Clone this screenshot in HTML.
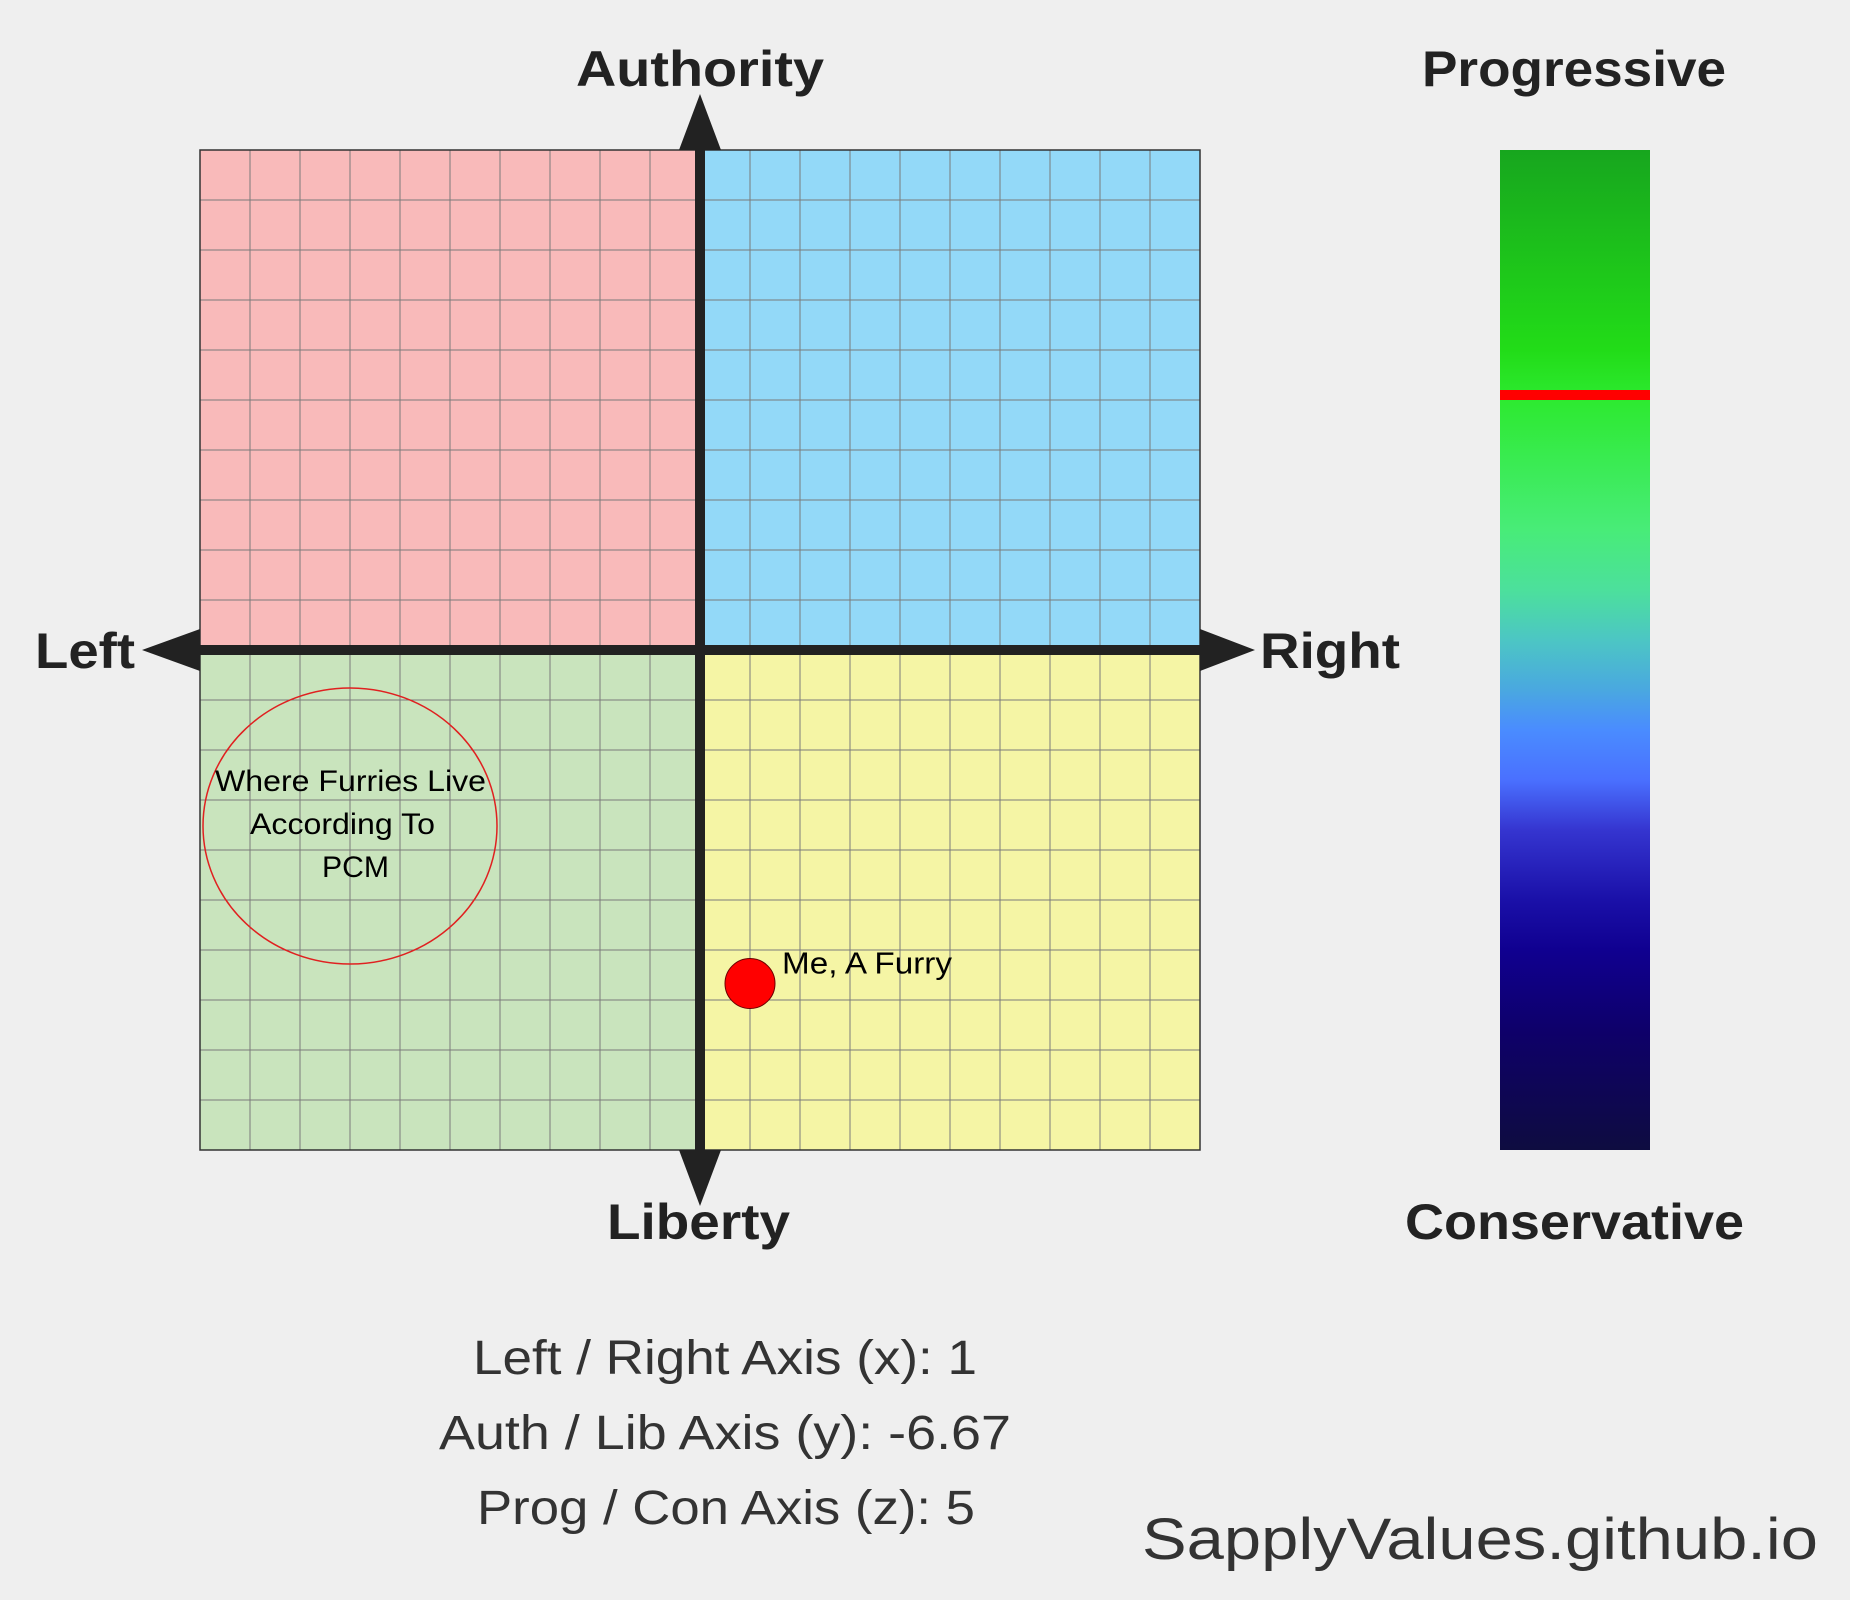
<!DOCTYPE html>
<html>
<head>
<meta charset="utf-8">
<style>
html,body{margin:0;padding:0;background:#efefef;}
svg{display:block;}
.bold{font-family:"Liberation Sans",sans-serif;font-weight:bold;fill:#222;}
.cal{font-family:"Liberation Sans",sans-serif;fill:#000;}
.info{font-family:"Liberation Sans",sans-serif;fill:#333;}
</style>
</head>
<body>
<svg id="chart" width="1850" height="1600" viewBox="0 0 1850 1600" xmlns="http://www.w3.org/2000/svg">
  <defs>
    <linearGradient id="zgrad" x1="0" y1="0" x2="0" y2="1">
      <stop offset="0" stop-color="#17a61e"/>
      <stop offset="0.2" stop-color="#22dc18"/>
      <stop offset="0.25" stop-color="#2dea30"/>
      <stop offset="0.38" stop-color="#48ec78"/>
      <stop offset="0.44" stop-color="#4ce09c"/>
      <stop offset="0.49" stop-color="#4cc6c4"/>
      <stop offset="0.54" stop-color="#4aa8e0"/>
      <stop offset="0.58" stop-color="#4a8cff"/>
      <stop offset="0.63" stop-color="#4a70ff"/>
      <stop offset="0.68" stop-color="#3535d0"/>
      <stop offset="0.75" stop-color="#1a10a8"/>
      <stop offset="0.8" stop-color="#100090"/>
      <stop offset="0.88" stop-color="#0e006a"/>
      <stop offset="1" stop-color="#0e0c40"/>
    </linearGradient>
  </defs>
  <g id="quadrants"></g>
  <g id="grid"></g>
  <g id="axes"></g>
  <g id="marks"></g>

  <text class="bold" x="576" y="86" font-size="50" textLength="248" lengthAdjust="spacingAndGlyphs">Authority</text>
  <text class="bold" x="607" y="1239" font-size="50" textLength="183" lengthAdjust="spacingAndGlyphs">Liberty</text>
  <text class="bold" x="35" y="668" font-size="50" textLength="100" lengthAdjust="spacingAndGlyphs">Left</text>
  <text class="bold" x="1260" y="668" font-size="50" textLength="140" lengthAdjust="spacingAndGlyphs">Right</text>
  <text class="bold" x="1422" y="86" font-size="50" textLength="304" lengthAdjust="spacingAndGlyphs">Progressive</text>
  <text class="bold" x="1405" y="1239" font-size="50" textLength="339" lengthAdjust="spacingAndGlyphs">Conservative</text>

  <g>
    <ellipse cx="350" cy="826" rx="147" ry="138" fill="none" stroke="#e02020" stroke-width="1.5"/>
    <text class="cal" font-size="30">
      <tspan x="215" y="791" textLength="271" lengthAdjust="spacingAndGlyphs">Where Furries Live</tspan>
      <tspan x="250" y="834" textLength="185" lengthAdjust="spacingAndGlyphs">According To</tspan>
      <tspan x="322" y="877" textLength="67" lengthAdjust="spacingAndGlyphs">PCM</tspan>
    </text>
  </g>

  <g>
    <text class="info" x="473" y="1374" font-size="48" textLength="504" lengthAdjust="spacingAndGlyphs">Left / Right Axis (x): 1</text>
    <text class="info" x="439" y="1449" font-size="48" textLength="572" lengthAdjust="spacingAndGlyphs">Auth / Lib Axis (y): -6.67</text>
    <text class="info" x="477" y="1524" font-size="48" textLength="498" lengthAdjust="spacingAndGlyphs">Prog / Con Axis (z): 5</text>
  </g>
  <text class="info" x="1142" y="1559" font-size="58" textLength="676" lengthAdjust="spacingAndGlyphs">SapplyValues.github.io</text>
</svg>
<script>
const pointX = [1];
const pointY = [-6.67];
const pointLabels = ["Me, A Furry"];
const zValue = [5];
const gridTicks = [-10,-9,-8,-7,-6,-5,-4,-3,-2,-1,0,1,2,3,4,5,6,7,8,9,10];

const NS = "http://www.w3.org/2000/svg";
const X0 = 200, X1 = 1200, Y0 = 150, Y1 = 1150;
function xs(v){ return X0 + (v + 10) / 20 * (X1 - X0); }
function ys(v){ return Y0 + (10 - v) / 20 * (Y1 - Y0); }
const ZT = 150, ZB = 1150;
function zs(v){ return ZT + (10 - v) / 20 * (ZB - ZT); }
function mk(tag, attrs, parent){
  const e = document.createElementNS(NS, tag);
  for (const k in attrs) e.setAttribute(k, attrs[k]);
  parent.appendChild(e);
  return e;
}
const q = document.getElementById('quadrants');
const quads = [
  ['auth-left-quadrant', xs(-10), ys(10), '#f9baba'],
  ['auth-right-quadrant', xs(0), ys(10), '#93d9f8'],
  ['lib-left-quadrant', xs(-10), ys(0), '#c9e4bd'],
  ['lib-right-quadrant', xs(0), ys(0), '#f5f5a5']
];
quads.forEach(d => {
  const r = mk('rect', {x: d[1], y: d[2], width: xs(0) - xs(-10), height: ys(0) - ys(10), fill: d[3]}, q);
  
  
});
const g = document.getElementById('grid');
gridTicks.forEach(t => {
  const l1 = mk('line', {x1: xs(t), x2: xs(t), y1: Y0, y2: Y1, stroke: '#7a7a7a', 'stroke-width': 1}, g);
  
  
  const l2 = mk('line', {x1: X0, x2: X1, y1: ys(t), y2: ys(t), stroke: '#7a7a7a', 'stroke-width': 1}, g);
  
  
});
const border = mk('rect', {x: X0, y: Y0, width: X1 - X0, height: Y1 - Y0, fill: 'none', stroke: '#333', 'stroke-width': 1.5}, g);



const a = document.getElementById('axes');
const cx = xs(0), cy = ys(0);
const va = mk('rect', {x: cx - 5, y: Y0, width: 10, height: Y1 - Y0, fill: '#222'}, a);


const ha = mk('rect', {x: X0, y: cy - 5, width: X1 - X0, height: 10, fill: '#222'}, a);


const arrows = [
  ['arrow-up', `${cx-21},${Y0} ${cx+21},${Y0} ${cx},${Y0-56}`],
  ['arrow-down', `${cx-21},${Y1} ${cx+21},${Y1} ${cx},${Y1+56}`],
  ['arrow-left', `${X0},${cy-21} ${X0},${cy+21} ${X0-58},${cy}`],
  ['arrow-right', `${X1},${cy-21} ${X1},${cy+21} ${X1+55},${cy}`]
];
arrows.forEach(d => {
  const p = mk('polygon', {points: d[1], fill: '#222'}, a);
  
  
});

const m = document.getElementById('marks');
pointX.forEach((v, i) => {
  const c = mk('circle', {cx: xs(v), cy: ys(pointY[i]), r: 25, fill: '#ff0000', stroke: '#6a0000', 'stroke-width': 1}, m);
  
  
  const t = mk('text', {x: xs(v) + 32, y: ys(pointY[i]) - 10, 'font-size': 31, class: 'cal', textLength: 170, lengthAdjust: 'spacingAndGlyphs'}, m);
  t.textContent = pointLabels[i];
  
  
});
const bar = mk('rect', {x: 1500, y: ZT, width: 150, height: ZB - ZT, fill: 'url(#zgrad)'}, m);


zValue.forEach(z => {
  const r = mk('rect', {x: 1500, y: zs(z) - 10, width: 150, height: 10, fill: '#ff0000'}, m);
  
  
});
</script>
</body>
</html>
